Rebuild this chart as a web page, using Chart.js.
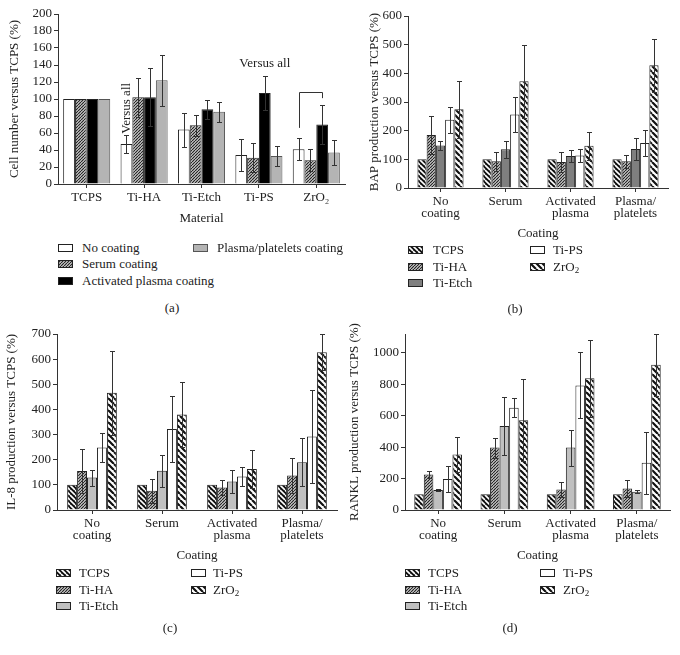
<!DOCTYPE html>
<html>
<head>
<meta charset="utf-8">
<script src="https://cdn.jsdelivr.net/npm/chart.js@4.4.1/dist/chart.umd.min.js"></script>
<style>
body{margin:0;width:680px;height:655px;position:relative;overflow:hidden;background:#fff;font-family:"Liberation Serif",serif;font-size:13px;color:#222}
canvas.plot{position:absolute}
.sw{position:absolute}
.tx{position:absolute;white-space:nowrap;line-height:16px}
.cap{position:absolute;transform:translateX(-50%);line-height:16px}
sub{font-size:9px;vertical-align:-2px;line-height:0}
</style>
</head>
<body>

<script>
// (a) cell number
var materials = ['TCPS', 'Ti-HA', 'Ti-Etch', 'Ti-PS', 'ZrO\u2082'];
var cellNo = [100, 47, 64, 34, 41];
var cellNoErr = [0, 11, 20, 19, 13];
var cellSerum = [100, 102, 69, 31, 28];
var cellSerumErr = [0, 23, 12, 17, 13];
var cellAct = [100, 102, 88, 107, 70];
var cellActErr = [0, 34, 11, 20, 23];
var cellPlt = [100, 122, 85, 33, 37];
var cellPltErr = [0, 30, 12, 12, 15];

// (b) (c) (d) shared categories
var coatings = [['No', 'coating'], 'Serum', ['Activated', 'plasma'], ['Plasma/', 'platelets']];

var bapTCPS = [100, 100, 100, 100];
var bapTiHA = [185, 93, 91, 93];
var bapTiHAErr = [65, 33, 35, 23];
var bapTiEtch = [148, 135, 112, 136];
var bapTiEtchErr = [17, 30, 20, 38];
var bapTiPS = [238, 256, 113, 157];
var bapTiPSErr = [46, 62, 22, 44];
var bapZrO2 = [275, 372, 147, 428];
var bapZrO2Err = [100, 128, 48, 92];

var il8TCPS = [100, 100, 100, 100];
var il8TiHA = [155, 77, 89, 137];
var il8TiHAErr = [88, 48, 30, 70];
var il8TiEtch = [129, 156, 113, 190];
var il8TiEtchErr = [32, 64, 45, 96];
var il8TiPS = [249, 322, 133, 292];
var il8TiPSErr = [58, 133, 37, 185];
var il8ZrO2 = [466, 380, 163, 627];
var il8ZrO2Err = [167, 130, 75, 72];

var rankTCPS = [100, 100, 100, 100];
var rankTiHA = [226, 397, 131, 137];
var rankTiHAErr = [20, 63, 47, 55];
var rankTiEtch = [127, 535, 397, 116];
var rankTiEtchErr = [5, 183, 115, 10];
var rankTiPS = [197, 651, 793, 300];
var rankTiPSErr = [82, 60, 210, 197];
var rankZrO2 = [353, 571, 839, 924];
var rankZrO2Err = [112, 260, 245, 197];

Chart.defaults.font.family = '"Liberation Serif", serif';
Chart.defaults.font.size = 13;
Chart.defaults.color = '#222';

function hatch(bg, fg, size, lw, dir) {
  var c = document.createElement('canvas');
  c.width = c.height = size;
  var g = c.getContext('2d');
  g.fillStyle = bg;
  g.fillRect(0, 0, size, size);
  g.strokeStyle = fg;
  g.lineWidth = lw;
  g.beginPath();
  [-size, 0, size].forEach(function (o) {
    if (dir > 0) { g.moveTo(o, size); g.lineTo(o + size, 0); }
    else { g.moveTo(o, 0); g.lineTo(o + size, size); }
  });
  g.stroke();
  return g.createPattern(c, 'repeat');
}

var fillTCPS = hatch('#111', '#fff', 5, 1.6, -1);
var fillHA = hatch('#d8d8d8', '#222', 3, 1.2, 1);
var fillZr = hatch('#fff', '#111', 6, 2.2, -1);

var errorBars = {
  id: 'errorBars',
  afterDatasetsDraw: function (chart) {
    var ctx = chart.ctx, y = chart.scales.y;
    chart.data.datasets.forEach(function (ds, i) {
      if (!ds.errors) return;
      chart.getDatasetMeta(i).data.forEach(function (bar, j) {
        var e = ds.errors[j];
        if (!e) return;
        var v = ds.data[j];
        var top = Math.round(y.getPixelForValue(v + e)) + 0.5;
        var bot = Math.round(y.getPixelForValue(v - e)) + 0.5;
        var x = Math.round(bar.x) + 0.5;
        ctx.save();
        ctx.strokeStyle = '#333';
        ctx.lineWidth = 1;
        ctx.beginPath();
        ctx.moveTo(x, top); ctx.lineTo(x, bot);
        ctx.moveTo(x - 2.5, top); ctx.lineTo(x + 2.5, top);
        ctx.moveTo(x - 2.5, bot); ctx.lineTo(x + 2.5, bot);
        ctx.stroke();
        ctx.restore();
      });
    });
  }
};

// "Versus all" notes in (a)
var noteVert = 89, noteHorz = 142, bracketTop = 108, bracketLeft = 66, bracketRight = 101;
var notesA = {
  id: 'notesA',
  afterDatasetsDraw: function (chart) {
    var ctx = chart.ctx, y = chart.scales.y;
    var m0 = chart.getDatasetMeta(0).data, m2 = chart.getDatasetMeta(2).data;
    ctx.save();
    ctx.fillStyle = '#222';
    ctx.font = '13px "Liberation Serif", serif';
    ctx.textAlign = 'center';
    ctx.textBaseline = 'middle';
    ctx.fillText('Versus all', m2[3].x, y.getPixelForValue(noteHorz));
    ctx.translate(m0[1].x, y.getPixelForValue(noteVert));
    ctx.rotate(-Math.PI / 2);
    ctx.fillText('Versus all', 0, 0);
    ctx.restore();
    var x1 = Math.round(m0[4].x) + 0.5, x2 = Math.round(m2[4].x) + 0.5;
    var yt = Math.round(y.getPixelForValue(bracketTop)) + 0.5;
    ctx.save();
    ctx.strokeStyle = '#333';
    ctx.lineWidth = 1;
    ctx.beginPath();
    ctx.moveTo(x1, y.getPixelForValue(bracketLeft));
    ctx.lineTo(x1, yt);
    ctx.lineTo(x2, yt);
    ctx.lineTo(x2, y.getPixelForValue(bracketRight));
    ctx.stroke();
    ctx.restore();
  }
};

function bar(label, data, errors, fill, border) {
  return {
    label: label, data: data, errors: errors,
    backgroundColor: fill, borderColor: border || '#222', borderWidth: 1,
    barPercentage: 1
  };
}

function makeChart(b) {
  var c = document.createElement('canvas');
  c.className = 'plot';
  c.width = b.w; c.height = b.h;
  c.style.left = b.x + 'px'; c.style.top = b.y + 'px';
  document.body.appendChild(c);
  b.sets.forEach(function (s) { s.categoryPercentage = b.cat; });
  return new Chart(c, {
    type: 'bar',
    data: { labels: b.labels, datasets: b.sets },
    options: {
      responsive: false,
      animation: false,
      layout: { padding: { left: b.padL, right: b.padR, top: b.padT, bottom: 0 } },
      plugins: { legend: { display: false }, tooltip: { enabled: false } },
      scales: {
        x: {
          grid: { offset: false, drawOnChartArea: false, tickLength: 4, color: '#333' },
          border: { color: '#333' },
          ticks: { padding: 3, maxRotation: 0, autoSkip: false, font: { size: 13, lineHeight: 0.95 } },
          title: { display: true, text: b.xTitle, font: { size: 13 }, color: '#222' },
          afterFit: function (s) { s.height = b.xh; }
        },
        y: {
          min: 0, max: b.max,
          grid: { drawOnChartArea: false, tickLength: 4, color: '#333' },
          border: { color: '#333' },
          ticks: {
            stepSize: b.step, padding: 2, autoSkip: false, font: { size: 13 },
            callback: function (v) { return String(v); }
          },
          afterBuildTicks: function (s) {
            s.ticks = s.ticks.filter(function (t) { return t.value % b.step === 0; });
          },
          title: { display: true, text: b.yTitle, font: { size: 13 }, color: '#222' },
          afterFit: function (s) { s.width = b.yw; }
        }
      }
    },
    plugins: b.plugins || [errorBars]
  });
}

makeChart({
  x: 0, y: 0, w: 350, h: 230, padL: 3, padR: 5, padT: 14, yw: 55, xh: 46,
  max: 200, step: 20, cat: 0.82, labels: materials,
  xTitle: 'Material', yTitle: 'Cell number versus TCPS (%)',
  sets: [
    bar('No coating', cellNo, cellNoErr, '#fff'),
    bar('Serum coating', cellSerum, cellSerumErr, fillHA),
    bar('Activated plasma coating', cellAct, cellActErr, '#000'),
    bar('Plasma/platelets coating', cellPlt, cellPltErr, '#b4b4b4', '#555')
  ],
  plugins: [errorBars, notesA]
});

makeChart({
  x: 340, y: 0, w: 340, h: 245, padL: 23, padR: 12, padT: 16, yw: 45, xh: 57,
  max: 600, step: 100, cat: 0.71, labels: coatings,
  xTitle: 'Coating', yTitle: 'BAP production versus TCPS (%)',
  sets: [
    bar('TCPS', bapTCPS, null, fillTCPS),
    bar('Ti-HA', bapTiHA, bapTiHAErr, fillHA),
    bar('Ti-Etch', bapTiEtch, bapTiEtchErr, '#7f7f7f'),
    bar('Ti-PS', bapTiPS, bapTiPSErr, '#fff'),
    bar('ZrO2', bapZrO2, bapZrO2Err, fillZr)
  ]
});

makeChart({
  x: 0, y: 320, w: 340, h: 247, padL: 0, padR: 3, padT: 14, yw: 57, xh: 57,
  max: 700, step: 100, cat: 0.71, labels: coatings,
  xTitle: 'Coating', yTitle: 'IL-8 production versus TCPS (%)',
  sets: [
    bar('TCPS', il8TCPS, null, fillTCPS),
    bar('Ti-HA', il8TiHA, il8TiHAErr, fillHA),
    bar('Ti-Etch', il8TiEtch, il8TiEtchErr, '#c0c0c0'),
    bar('Ti-PS', il8TiPS, il8TiPSErr, '#fff'),
    bar('ZrO2', il8ZrO2, il8ZrO2Err, fillZr)
  ]
});

makeChart({
  x: 340, y: 320, w: 340, h: 247, padL: 3, padR: 10, padT: 14, yw: 62, xh: 57,
  max: 1120, step: 200, cat: 0.72, labels: coatings,
  xTitle: 'Coating', yTitle: 'RANKL production versus TCPS (%)',
  sets: [
    bar('TCPS', rankTCPS, null, fillTCPS),
    bar('Ti-HA', rankTiHA, rankTiHAErr, fillHA),
    bar('Ti-Etch', rankTiEtch, rankTiEtchErr, '#c0c0c0'),
    bar('Ti-PS', rankTiPS, rankTiPSErr, '#fff'),
    bar('ZrO2', rankZrO2, rankZrO2Err, fillZr)
  ]
});

// legends and captions
function item(sx, tx, cy, fill, border, html) {
  var c = document.createElement('canvas');
  c.className = 'sw';
  c.width = 15; c.height = 8;
  c.style.left = sx + 'px'; c.style.top = (cy - 4) + 'px';
  var g = c.getContext('2d');
  g.fillStyle = fill;
  g.fillRect(0, 0, 15, 8);
  g.strokeStyle = border || '#222';
  g.strokeRect(0.5, 0.5, 14, 7);
  document.body.appendChild(c);
  var t = document.createElement('div');
  t.className = 'tx';
  t.style.left = tx + 'px'; t.style.top = (cy - 8) + 'px';
  t.innerHTML = html;
  document.body.appendChild(t);
}
function caption(x, cy, text) {
  var d = document.createElement('div');
  d.className = 'cap';
  d.style.left = x + 'px'; d.style.top = (cy - 8) + 'px';
  d.textContent = text;
  document.body.appendChild(d);
}

item(58, 82, 248, '#fff', null, 'No coating');
item(58, 82, 264, fillHA, null, 'Serum coating');
item(58, 82, 281, '#000', null, 'Activated plasma coating');
item(193, 217, 248, '#b4b4b4', '#555', 'Plasma/platelets coating');
caption(172, 308, '(a)');

function materialLegend(c1s, c1t, c2s, c2t, y0, etch) {
  item(c1s, c1t, y0, fillTCPS, null, 'TCPS');
  item(c1s, c1t, y0 + 16.5, fillHA, null, 'Ti-HA');
  item(c1s, c1t, y0 + 33, etch, null, 'Ti-Etch');
  item(c2s, c2t, y0, '#fff', null, 'Ti-PS');
  item(c2s, c2t, y0 + 16.5, fillZr, null, 'ZrO<sub>2</sub>');
}
materialLegend(408, 433, 530, 553, 250, '#7f7f7f');
caption(515, 309, '(b)');
materialLegend(56, 79, 191, 213, 573, '#c0c0c0');
caption(170, 628, '(c)');
materialLegend(405, 428, 540, 563, 573, '#c0c0c0');
caption(510, 628, '(d)');
</script>
</body>
</html>
